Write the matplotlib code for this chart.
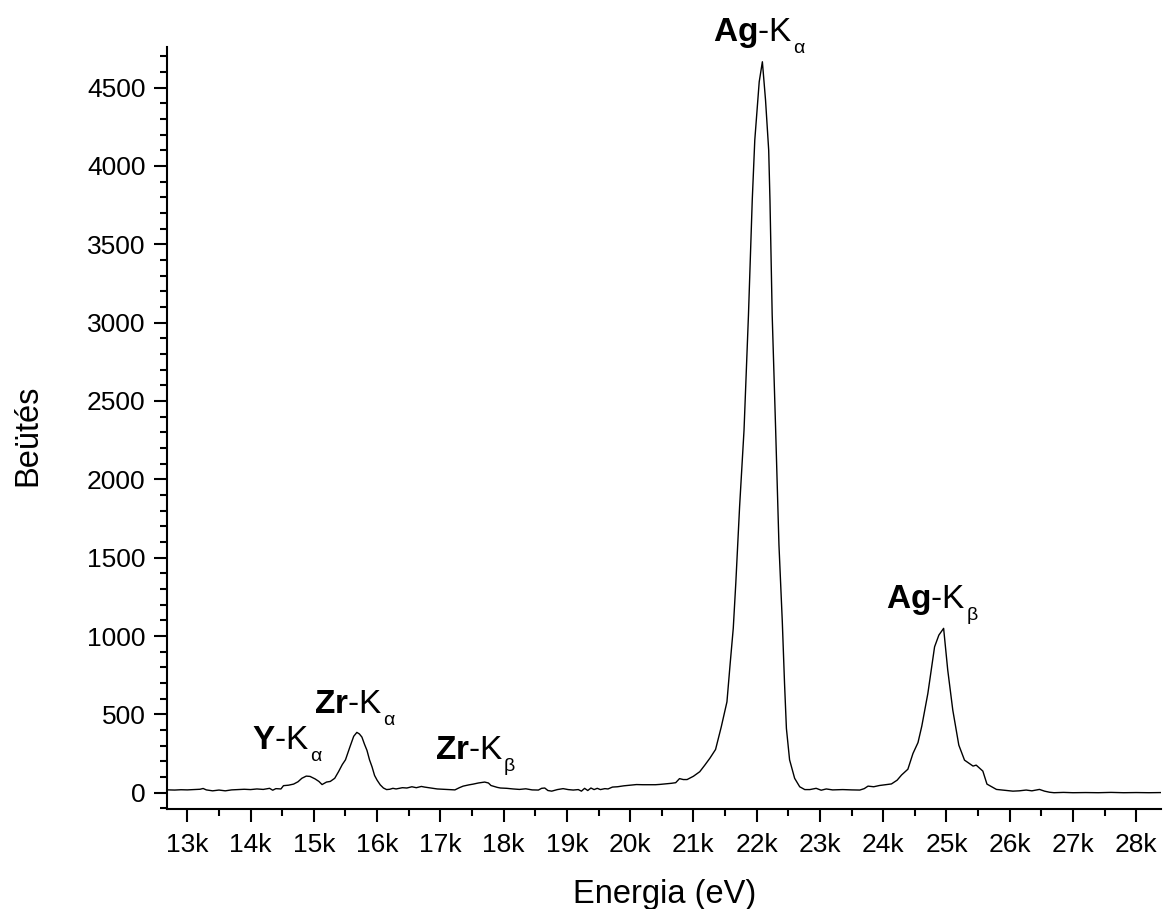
import numpy as np
import matplotlib
matplotlib.use("Agg")
import matplotlib.pyplot as plt
from matplotlib.ticker import MultipleLocator, FuncFormatter

plt.rcParams['font.family'] = ['Liberation Sans', 'DejaVu Sans']
plt.rcParams['mathtext.fontset'] = 'custom'
plt.rcParams['mathtext.rm'] = 'Liberation Sans'
plt.rcParams['mathtext.it'] = 'Liberation Sans:italic'
plt.rcParams['mathtext.bf'] = 'Liberation Sans:bold'

# spectrum (eV, counts)
energia = [12700, 12800, 12900, 13000, 13100, 13200, 13250, 13300, 13400, 13500,
           13600, 13700, 13800, 13900, 14000, 14100, 14200, 14300, 14350, 14400,
           14480, 14520, 14600, 14680, 14750, 14810, 14880, 14940, 15020, 15080,
           15130, 15200, 15260, 15330, 15390, 15450, 15500, 15570, 15630, 15680,
           15720, 15760, 15800, 15840, 15880, 15920, 15960, 16000, 16050, 16100,
           16150, 16200, 16250, 16300, 16400, 16470, 16550, 16620, 16700, 16750,
           16850, 16950, 17050, 17150, 17230, 17300, 17360, 17450, 17520, 17600,
           17700, 17760, 17800, 17900, 17950, 18050, 18150, 18250, 18350, 18450,
           18550, 18600, 18650, 18700, 18760, 18850, 18940, 19020, 19100, 19180,
           19230, 19280, 19330, 19380, 19430, 19480, 19530, 19600, 19650, 19720,
           19800, 19900, 20000, 20100, 20200, 20300, 20400, 20470, 20550, 20650,
           20720, 20780, 20840, 20900, 21000, 21100, 21180, 21260, 21350, 21440,
           21530, 21580, 21630, 21670, 21730, 21800, 21870, 21930, 21970, 22040,
           22090, 22140, 22190, 22210, 22245, 22300, 22352, 22405, 22440, 22470,
           22520, 22600, 22680, 22760, 22840, 22940, 23020, 23100, 23200, 23360,
           23500, 23630, 23700, 23760, 23850, 23940, 24050, 24130, 24220, 24290,
           24390, 24470, 24550, 24610, 24706, 24812, 24880, 24955, 25020,
           25100, 25195, 25285, 25420, 25470, 25575, 25640, 25790, 25950, 26050,
           26150, 26260, 26350, 26470, 26550, 26630, 26700, 26850, 27000, 27200,
           27400, 27600, 27800, 28000, 28200, 28400]
beutes = [18, 17, 19, 18, 20, 22, 27, 18, 12, 17,
          12, 18, 20, 22, 20, 24, 21, 28, 16, 26,
          24, 45, 48, 55, 70, 92, 106, 104, 88, 72,
          52, 68, 72, 92, 134, 180, 210, 292, 360, 385,
          375, 355, 310, 270, 210, 165, 110, 80, 50, 30,
          20, 22, 28, 24, 32, 30, 38, 32, 40, 36,
          30, 24, 22, 20, 18, 32, 42, 50, 55, 62,
          68, 62, 46, 34, 30, 28, 24, 21, 25, 18,
          17, 28, 30, 14, 10, 20, 26, 20, 17, 20,
          10, 28, 14, 30, 20, 28, 20, 26, 24, 36,
          38, 44, 48, 52, 51, 51, 51, 53, 56, 60,
          64, 90, 84, 84, 105, 134, 176, 220, 276, 420,
          580, 820, 1050, 1338, 1826, 2314, 3048, 3782, 4165, 4537,
          4665, 4420, 4100, 3782, 3050, 2314, 1582, 1092, 700, 410,
          210, 92, 38, 20, 20, 28, 16, 24, 18, 20,
          18, 17, 26, 42, 38, 46, 52, 56, 80, 113,
          150, 250, 320, 425, 634, 931, 1006, 1049, 783,
          527, 304, 208, 170, 176, 138, 55, 21, 14, 10,
          12, 17, 12, 21, 10, 3, 0, 2, 0, 1,
          0, 2, 0, 1, 0, 1]

# peak labels: element, line subscript, x, y (left edge / baseline)
elemek = ['Y', 'Zr', 'Zr', 'Ag', 'Ag']
vonalak = ['α', 'α', 'β', 'α', 'β']
cimke_x = [14022, 15002, 16913, 21305, 24049]
cimke_y = [279, 507, 213, 4797, 1177]

fig = plt.figure(figsize=(11.63, 9.09), dpi=100)
ax = fig.add_axes([0.1436, 0.110, 0.855, 0.8386])

ax.plot(energia, beutes, color='black', lw=1.0)

ax.set_xlim(12679, 28397)
ax.set_ylim(-104, 4761)

renderer = fig.canvas.get_renderer()
for el, vo, x, y in zip(elemek, vonalak, cimke_x, cimke_y):
    t = ax.text(x, y, r'$\mathbf{%s}$-K' % el, fontsize=24,
                ha='left', va='baseline', clip_on=False)
    bb = t.get_window_extent(renderer)
    x0 = ax.transData.transform((x, y))[0]
    ax.annotate(vo, xy=(x, y), xycoords='data',
                xytext=(bb.x1 - x0 + 0.5, -12), textcoords='offset pixels',
                fontsize=14, ha='left', va='baseline', annotation_clip=False)

ax.xaxis.set_major_locator(MultipleLocator(1000))
ax.xaxis.set_minor_locator(MultipleLocator(500))
ax.yaxis.set_major_locator(MultipleLocator(500))
ax.yaxis.set_minor_locator(MultipleLocator(100))
ax.xaxis.set_major_formatter(FuncFormatter(lambda v, p: '%dk' % round(v / 1000)))

ax.spines['top'].set_visible(False)
ax.spines['right'].set_visible(False)
ax.spines['left'].set_linewidth(1.5)
ax.spines['bottom'].set_linewidth(1.5)
ax.tick_params(which='major', direction='out', length=9.5, width=1.5, labelsize=19)
ax.tick_params(axis='x', which='major', pad=8)
ax.tick_params(axis='y', which='major', pad=6)
ax.tick_params(which='minor', direction='out', length=4.8, width=1.5)

ax.set_xlabel('Energia (eV)', fontsize=23.5)
ax.set_ylabel('Beütés', fontsize=23.5)
ax.xaxis.set_label_coords(0.5, -0.092)
ax.yaxis.set_label_coords(-0.124, 0.49)

fig.savefig('out.png', dpi=100)
